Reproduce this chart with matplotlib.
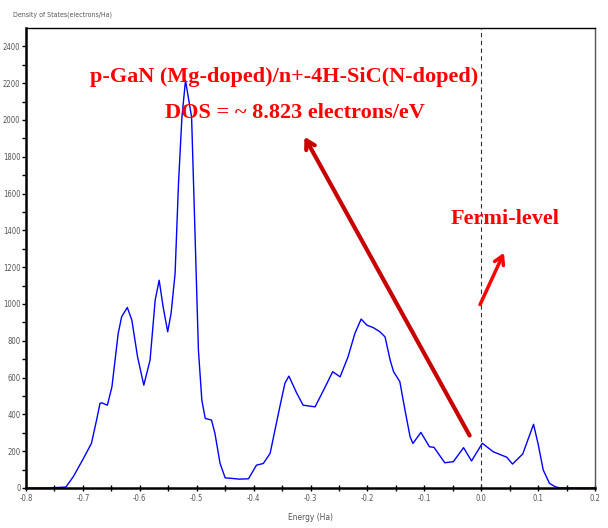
import matplotlib
matplotlib.use('Agg')
import matplotlib.pyplot as plt
import numpy as np

# density of states
energy = [-0.80, -0.76, -0.73, -0.717, -0.699, -0.685, -0.676, -0.670, -0.667, -0.657,
          -0.649, -0.638, -0.632, -0.622, -0.614, -0.604, -0.593, -0.582, -0.573, -0.566,
          -0.559, -0.551, -0.545, -0.538, -0.532, -0.526, -0.5197, -0.509, -0.503, -0.497,
          -0.491, -0.485, -0.474, -0.468, -0.459, -0.450, -0.438, -0.425, -0.409, -0.395,
          -0.383, -0.371, -0.354, -0.345, -0.338, -0.324, -0.313, -0.292, -0.277, -0.261,
          -0.248, -0.234, -0.222, -0.211, -0.201, -0.190, -0.178, -0.169, -0.160, -0.154,
          -0.143, -0.134, -0.125, -0.120, -0.106, -0.091, -0.083, -0.064, -0.049, -0.031,
          -0.017, 0.002, 0.021, 0.045, 0.055, 0.073, 0.092, 0.100, 0.109, 0.120,
          0.130, 0.138, 0.20]
dos = [0, 0, 5, 61, 161, 243, 369, 460, 463, 450,
       550, 840, 930, 981, 912, 713, 559, 695, 1021, 1129,
       984, 849, 950, 1166, 1656, 2016, 2215, 2016, 1385, 749,
       478, 378, 369, 297, 134, 55, 52, 48, 50, 124,
       133, 188, 440, 569, 608, 514, 450, 441, 532, 632,
       604, 713, 840, 918, 885, 872, 849, 821, 695, 632,
       578, 424, 279, 242, 302, 224, 221, 137, 143, 219,
       147, 243, 197, 167, 130, 185, 346, 240, 98, 25,
       7, 0, 0]

xticks = [-0.8, -0.7, -0.6, -0.5, -0.4, -0.3, -0.2, -0.1, 0.0, 0.1, 0.2]
yticks = [0, 200, 400, 600, 800, 1000, 1200, 1400, 1600, 1800, 2000, 2200, 2400]

small = dict(family='DejaVu Sans', stretch='condensed', color='#555555')

fig = plt.figure(figsize=(6.08, 5.28), dpi=100)
ax = fig.add_axes([0.0428, 0.0758, 0.9358, 0.8712])

ax.plot(energy, dos, color='#0000ff', lw=1.0)
ax.axvline(0.0, color='#333333', lw=0.8, ls=(0, (4, 3)))

ax.set_xlim(-0.8, 0.2)
ax.set_ylim(0, 2500)
ax.set_xticks(xticks)
ax.set_xticklabels(['%.1f' % t for t in xticks], fontsize=5.5, **small)
ax.set_yticks(yticks)
ax.set_yticklabels([str(t) for t in yticks], fontsize=5.5, **small)
ax.set_xticks(np.arange(-0.75, 0.2, 0.1), minor=True)
ax.set_yticks(np.arange(100, 2500, 200), minor=True)
ax.tick_params(which='both', direction='inout', length=5, width=1.0, pad=2)
ax.tick_params(axis='y', which='both', direction='out', length=3, pad=1)
for s in ['left', 'bottom']:
    ax.spines[s].set_linewidth(1.8)
ax.spines['top'].set_linewidth(1.0)
ax.spines['right'].set_linewidth(1.0)
ax.spines['right'].set_color('#555555')

fig.text(0.022, 0.972, 'Density of States(electrons/Ha)', fontsize=5, va='center', ha='left', **small)
ax.set_xlabel('Energy (Ha)', fontsize=6, labelpad=7, **small)

title_font = dict(family='Liberation Serif', weight='bold', color='#ff0000', fontsize=16)
ax.text(-0.347, 2205, 'p-GaN (Mg-doped)/n+-4H-SiC(N-doped)', ha='center', va='baseline', **title_font)
ax.text(-0.328, 2012, 'DOS = ~ 8.823 electrons/eV', ha='center', va='baseline', **title_font)
ax.text(0.042, 1434, 'Fermi-level', ha='center', va='baseline', **title_font)

ax.annotate('', xy=(-0.313, 1922), xytext=(-0.018, 272),
            arrowprops=dict(arrowstyle='->,head_length=0.6,head_width=0.35',
                            color='#c80000', lw=3))
ax.annotate('', xy=(0.042, 1292), xytext=(-0.004, 983),
            arrowprops=dict(arrowstyle='->,head_length=0.6,head_width=0.35',
                            color='#ff0000', lw=2.5))

fig.savefig('out.png', dpi=100)
